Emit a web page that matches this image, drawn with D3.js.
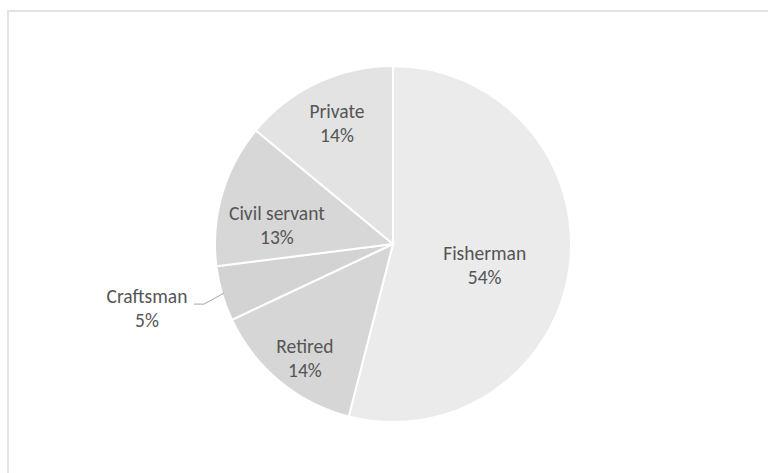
<!DOCTYPE html>
<html>
<head>
<meta charset="utf-8">
<script src="https://cdn.jsdelivr.net/npm/d3@7"></script>
<style>
  html, body { margin: 0; padding: 0; background: #fff; }
  svg { display: block; }
</style>
</head>
<body>
<svg id="chart" width="768" height="473"></svg>
<script>
// ---- data ----
const categories = ["Fisherman", "Retired", "Craftsman", "Civil servant", "Private"];
const values = [54, 14, 5, 13, 14];
const percentLabels = ["54%", "14%", "5%", "13%", "14%"];
const sliceColors = ["#ebebeb", "#d6d6d6", "#d3d3d3", "#d7d7d7", "#e3e3e3"];

const svg = d3.select("#chart");
const W = 768, H = 473;

// frame
svg.append("rect")
  .attr("x", 8).attr("y", 11)
  .attr("width", W + 10).attr("height", H + 10)
  .attr("fill", "#fff")
  .attr("stroke", "#e3e3e3")
  .attr("stroke-width", 2);

const cx = 393, cy = 244, R = 178;
const g = svg.append("g").attr("transform", `translate(${cx},${cy})`);

const data = categories.map((c, i) => ({ cat: c, value: values[i], pct: percentLabels[i], color: sliceColors[i] }));

const pie = d3.pie().value(d => d.value).sort(null);
const arcs = pie(data);
const arc = d3.arc().innerRadius(0).outerRadius(R);

g.selectAll("path.slice")
  .data(arcs)
  .enter().append("path")
  .attr("class", "slice")
  .attr("d", arc)
  .attr("fill", d => d.data.color)
  .attr("stroke", "#fff")
  .attr("stroke-width", 2)
  .attr("stroke-linejoin", "round");

// label placement (relative to slice mid-angle): [angle offset in degrees, radius fraction]
const labelPlacement = {
  "Fisherman": [6.4, 0.53],
  "Retired": [-2.2, 0.815],
  "Civil servant": [-7.4, 0.66],
  "Private": [0.2, 0.745]
};

const font = "Carlito, Calibri, 'Open Sans', 'Liberation Sans', sans-serif";
const textColor = "#555555";
const fs = 19.5;
const lineGap = 24.5;

arcs.forEach(a => {
  const mid = (a.startAngle + a.endAngle) / 2;
  let x, y, anchor = "middle";
  if (labelPlacement[a.data.cat]) {
    const [off, rf] = labelPlacement[a.data.cat];
    const ang = mid + off * Math.PI / 180;
    x = Math.sin(ang) * R * rf;
    y = -Math.cos(ang) * R * rf;
  } else {
    // outside label with leader line (Craftsman)
    const ang = mid;
    const edge = [Math.sin(ang) * (R - 2), -Math.cos(ang) * (R - 2)];
    const elbow = [edge[0] - 20, edge[1] + 11];
    const end = [elbow[0] - 10, elbow[1]];
    g.append("polyline")
      .attr("points", [edge, elbow, end].map(p => p.join(",")).join(" "))
      .attr("fill", "none")
      .attr("stroke", "#a6a6a6")
      .attr("stroke-width", 1);
    x = end[0] - 47;
    y = end[1] + 5;
  }
  const t = g.append("text")
    .attr("x", x).attr("y", y)
    .attr("text-anchor", anchor)
    .attr("font-family", font)
    .attr("font-size", fs)
    .attr("fill", textColor);
  t.append("tspan").attr("x", x).attr("dy", -lineGap / 2 + 6).text(a.data.cat);
  t.append("tspan").attr("x", x).attr("dy", lineGap).text(a.data.pct);
});
</script>
</body>
</html>
